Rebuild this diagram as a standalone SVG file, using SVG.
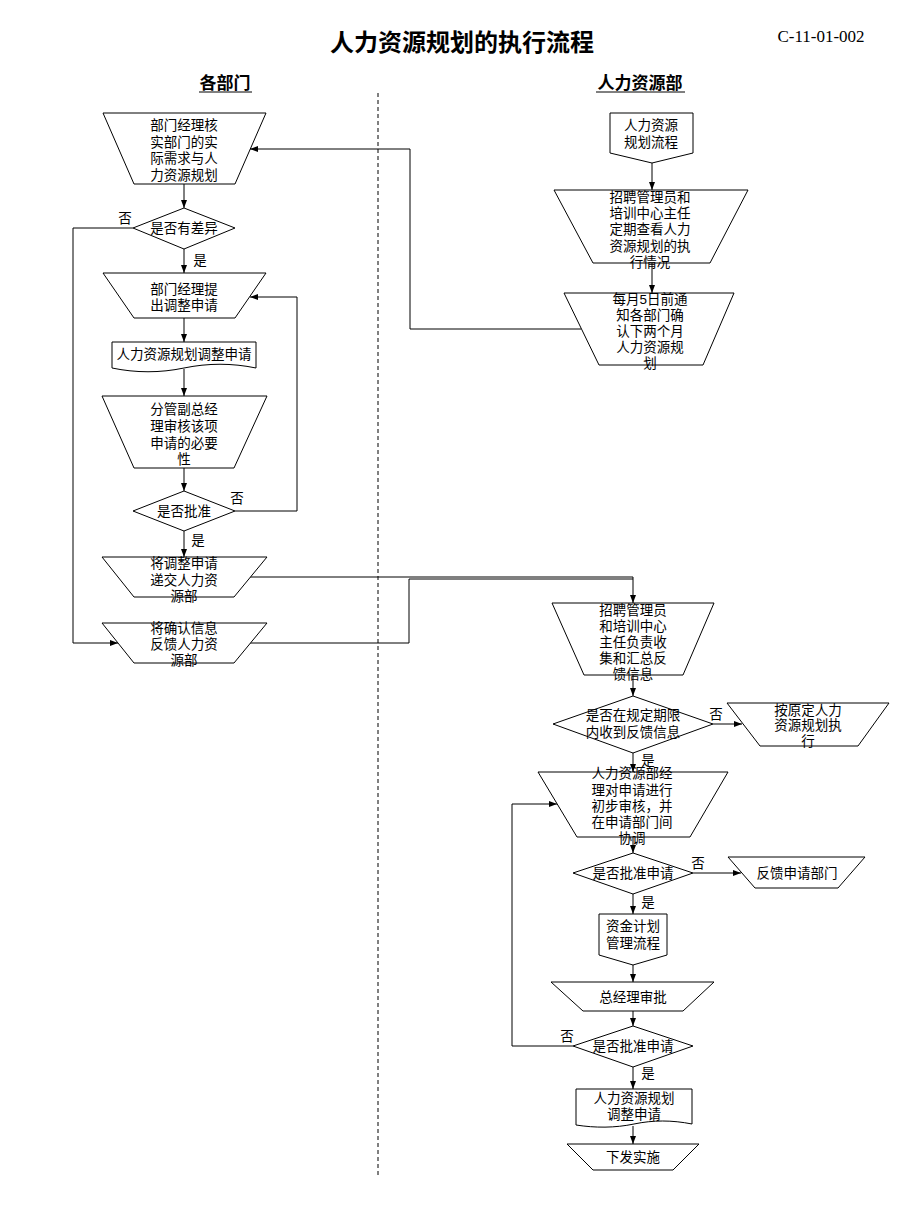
<svg xmlns="http://www.w3.org/2000/svg" width="920" height="1226" viewBox="0 0 920 1226">
<style>
.s{fill:#fff;stroke:#000;stroke-width:1}
.t{font-family:"Liberation Sans","Noto Sans CJK SC",sans-serif;font-size:13.5px;fill:#000;text-anchor:middle}
.c{fill:none;stroke:#000;stroke-width:1}
.h{font-family:"Liberation Serif","Noto Sans CJK SC",serif;font-weight:bold;fill:#000;text-anchor:middle}
</style>
<defs>
<marker id="a" markerWidth="8" markerHeight="6" refX="8" refY="3" orient="auto" markerUnits="userSpaceOnUse"><path d="M0,0 L8,3 L0,6 z" fill="#000"/></marker>
</defs>
<rect width="920" height="1226" fill="#fff"/>
<text class="h" x="462" y="51" font-size="24">人力资源规划的执行流程</text>
<text x="821" y="42" font-family="Liberation Serif,serif" font-size="17" text-anchor="middle">C-11-01-002</text>
<text class="h" x="225" y="89" font-size="17">各部门</text>
<line x1="199" y1="92" x2="252" y2="92" stroke="#000"/>
<text class="h" x="640" y="89" font-size="17">人力资源部</text>
<line x1="596" y1="92" x2="685" y2="92" stroke="#000"/>
<line x1="378" y1="93" x2="378" y2="1176" stroke="#000" stroke-dasharray="4,3"/>

<g id="connectors">
<path class="c" d="M184,184 V208" marker-end="url(#a)"/>
<path class="c" d="M184,249 V273" marker-end="url(#a)"/>
<path class="c" d="M184,318 V342" marker-end="url(#a)"/>
<path class="c" d="M184,369 V396" marker-end="url(#a)"/>
<path class="c" d="M184,468 V491" marker-end="url(#a)"/>
<path class="c" d="M184,531 V557" marker-end="url(#a)"/>
<path class="c" d="M133,228 H73 V643 H118" marker-end="url(#a)"/>
<path class="c" d="M235,511 H297 V297 H250" marker-end="url(#a)"/>
<path class="c" d="M250,577 H633 V603" marker-end="url(#a)"/>
<path class="c" d="M250,643 H409 V579 H633" stroke="#555"/>
<path class="c" d="M652,163 V190" marker-end="url(#a)"/>
<path class="c" d="M652,263 V293" marker-end="url(#a)"/>
<path class="c" d="M581,329 H410 V149 H250" marker-end="url(#a)"/>
<path class="c" d="M633,675 V696" marker-end="url(#a)"/>
<path class="c" d="M713,724 H742" marker-end="url(#a)"/>
<path class="c" d="M633,753 V772" marker-end="url(#a)"/>
<path class="c" d="M633,837 V853" marker-end="url(#a)"/>
<path class="c" d="M693,873 H741" marker-end="url(#a)"/>
<path class="c" d="M633,894 V914" marker-end="url(#a)"/>
<path class="c" d="M633,965 V982" marker-end="url(#a)"/>
<path class="c" d="M633,1011 V1026" marker-end="url(#a)"/>
<path class="c" d="M573,1046 H512 V804 H557" marker-end="url(#a)"/>
<path class="c" d="M633,1067 V1089" marker-end="url(#a)"/>
<path class="c" d="M633,1126 V1144" marker-end="url(#a)"/>
<text class="t" x="125" y="223">否</text>
<text class="t" x="200" y="265">是</text>
<text class="t" x="237" y="503">否</text>
<text class="t" x="198" y="545">是</text>
<text class="t" x="716" y="719">否</text>
<text class="t" x="648" y="765">是</text>
<text class="t" x="698" y="868">否</text>
<text class="t" x="648" y="907">是</text>
<text class="t" x="567" y="1041">否</text>
<text class="t" x="648" y="1078">是</text>
</g>

<g id="n1"><polygon class="s" points="103,113 266,113 235,184 134,184"/>
<text class="t" x="184"><tspan x="184" y="130">部门经理核</tspan><tspan x="184" y="147">实部门的实</tspan><tspan x="184" y="163">际需求与人</tspan><tspan x="184" y="180">力资源规划</tspan></text></g>

<g id="d1"><polygon class="s" points="184,208 235,228 184,249 133,228"/>
<text class="t" x="184" y="233">是否有差异</text></g>

<g id="n2"><polygon class="s" points="103,273 266,273 235,318 134,318"/>
<text class="t"><tspan x="184" y="294">部门经理提</tspan><tspan x="184" y="310">出调整申请</tspan></text></g>

<g id="doc1"><path class="s" d="M112,342 H256 V368 C232,363 208,363 184,368 C160,373 136,373 112,368 Z"/>
<text class="t" x="184" y="359">人力资源规划调整申请</text></g>

<g id="n3"><polygon class="s" points="102,396 267,396 234,468 134,468"/>
<text class="t"><tspan x="184" y="414">分管副总经</tspan><tspan x="184" y="431">理审核该项</tspan><tspan x="184" y="448">申请的必要</tspan><tspan x="184" y="464">性</tspan></text></g>

<g id="d2"><polygon class="s" points="184,491 235,511 184,531 133,511"/>
<text class="t" x="184" y="516">是否批准</text></g>

<g id="n4"><polygon class="s" points="102,557 267,557 234,597 134,597"/>
<text class="t"><tspan x="184" y="568">将调整申请</tspan><tspan x="184" y="585">递交人力资</tspan><tspan x="184" y="601">源部</tspan></text></g>

<g id="n5"><polygon class="s" points="102,623 267,623 234,663 134,663"/>
<text class="t"><tspan x="184" y="633">将确认信息</tspan><tspan x="184" y="649">反馈人力资</tspan><tspan x="184" y="665">源部</tspan></text></g>

<g id="r1"><polygon class="s" points="610,113 693,113 693,153 652,163 610,153"/>
<text class="t"><tspan x="651" y="130">人力资源</tspan><tspan x="651" y="147">规划流程</tspan></text></g>

<g id="r2"><polygon class="s" points="554,190 748,190 710,263 593,263"/>
<text class="t"><tspan x="650" y="202">招聘管理员和</tspan><tspan x="650" y="218">培训中心主任</tspan><tspan x="650" y="234">定期查看人力</tspan><tspan x="650" y="251">资源规划的执</tspan><tspan x="650" y="267">行情况</tspan></text></g>

<g id="r3"><polygon class="s" points="564,293 734,293 703,365 599,365"/>
<text class="t"><tspan x="650" y="304">每月5日前通</tspan><tspan x="650" y="320">知各部门确</tspan><tspan x="650" y="336">认下两个月</tspan><tspan x="650" y="352">人力资源规</tspan><tspan x="650" y="368">划</tspan></text></g>

<g id="r4"><polygon class="s" points="552,603 714,603 683,675 584,675"/>
<text class="t"><tspan x="633" y="615">招聘管理员</tspan><tspan x="633" y="631">和培训中心</tspan><tspan x="633" y="647">主任负责收</tspan><tspan x="633" y="663">集和汇总反</tspan><tspan x="633" y="679">馈信息</tspan></text></g>

<g id="r5"><polygon class="s" points="633,696 713,724 633,753 553,724"/>
<text class="t"><tspan x="633" y="720">是否在规定期限</tspan><tspan x="633" y="737">内收到反馈信息</tspan></text></g>

<g id="r6"><polygon class="s" points="727,703 889,703 858,746 760,746"/>
<text class="t"><tspan x="808" y="715">按原定人力</tspan><tspan x="808" y="730">资源规划执</tspan><tspan x="808" y="746">行</tspan></text></g>

<g id="r7"><polygon class="s" points="538,772 728,772 690,837 577,837"/>
<text class="t"><tspan x="632" y="778">人力资源部经</tspan><tspan x="632" y="795">理对申请进行</tspan><tspan x="632" y="811">初步审核，并</tspan><tspan x="632" y="827">在申请部门间</tspan><tspan x="632" y="843">协调</tspan></text></g>

<g id="r8"><polygon class="s" points="633,853 693,873 633,894 573,873"/>
<text class="t" x="633" y="878">是否批准申请</text></g>

<g id="r9"><polygon class="s" points="728,857 865,857 838,888 755,888"/>
<text class="t" x="797" y="878">反馈申请部门</text></g>

<g id="r10"><polygon class="s" points="599,914 667,914 667,955 633,965 599,955"/>
<text class="t"><tspan x="633" y="931">资金计划</tspan><tspan x="633" y="948">管理流程</tspan></text></g>

<g id="r11"><polygon class="s" points="551,982 714,982 683,1011 583,1011"/>
<text class="t" x="633" y="1002">总经理审批</text></g>

<g id="r12"><polygon class="s" points="633,1026 693,1046 633,1067 573,1046"/>
<text class="t" x="633" y="1051">是否批准申请</text></g>

<g id="r13"><path class="s" d="M576,1089 H692 V1124 C672,1120 653,1120 634,1124 C615,1128 595,1128 576,1125 Z"/>
<text class="t"><tspan x="634" y="1103">人力资源规划</tspan><tspan x="634" y="1119">调整申请</tspan></text></g>

<g id="r14"><polygon class="s" points="567,1144 699,1144 673,1170 593,1170"/>
<text class="t" x="633" y="1162">下发实施</text></g>
</svg>
